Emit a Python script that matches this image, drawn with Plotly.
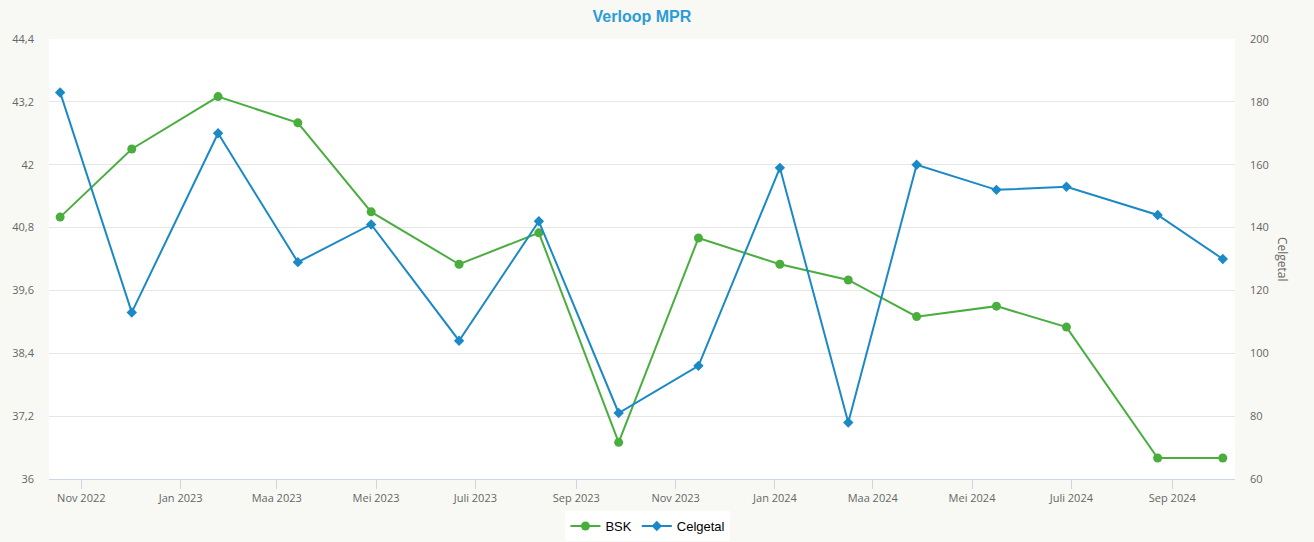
import plotly.graph_objects as go

dates = ["2022-10-19", "2022-12-02", "2023-01-24", "2023-03-14", "2023-04-28",
         "2023-06-21", "2023-08-09", "2023-09-27", "2023-11-15", "2024-01-04",
         "2024-02-15", "2024-03-28", "2024-05-16", "2024-06-28", "2024-08-23",
         "2024-10-02"]
bsk = [41.0, 42.3, 43.3, 42.8, 41.1, 40.1, 40.7, 36.7, 40.6, 40.1, 39.8, 39.1,
       39.3, 38.9, 36.4, 36.4]
celgetal = [183, 113, 170, 129, 141, 104, 142, 81, 96, 159, 78, 160, 152, 153,
            144, 130]

tick_dates = ["2022-11-01", "2023-01-01", "2023-03-01", "2023-05-01", "2023-07-01",
              "2023-09-01", "2023-11-01", "2024-01-01", "2024-03-01", "2024-05-01",
              "2024-07-01", "2024-09-01"]
tick_labels = ["Nov 2022", "Jan 2023", "Maa 2023", "Mei 2023", "Juli 2023",
               "Sep 2023", "Nov 2023", "Jan 2024", "Maa 2024", "Mei 2024",
               "Juli 2024", "Sep 2024"]

GREEN = "#4aae3f"
BLUE = "#1b89c6"
BG = "#f8f9f4"
AXIS_FONT = dict(family="Open Sans, DejaVu Sans, sans-serif", size=11, color="#666666")

fig = go.Figure()
fig.add_trace(go.Scatter(
    x=dates, y=bsk, name="BSK", mode="lines+markers",
    line=dict(color=GREEN, width=2),
    marker=dict(symbol="circle", size=9, color=GREEN),
    yaxis="y"))
fig.add_trace(go.Scatter(
    x=dates, y=celgetal, name="Celgetal", mode="lines+markers",
    line=dict(color=BLUE, width=2),
    marker=dict(symbol="diamond", size=8, color=BLUE),
    yaxis="y2"))

fig.update_layout(
    width=1314, height=542,
    paper_bgcolor=BG, plot_bgcolor="#ffffff",
    margin=dict(l=49, r=79, t=39, b=63, autoexpand=False),
    separators=",.",
    title=dict(text="<b>Verloop MPR</b>", x=0.4885, xanchor="center", y=0.97, yanchor="middle",
               font=dict(family="Liberation Sans, Arial, sans-serif", size=16, color="#2b9cd8")),
    xaxis=dict(
        type="date", range=["2022-10-12 04:00", "2024-10-09 12:00"],
        tickvals=tick_dates, ticktext=tick_labels,
        showgrid=False, showline=True, linecolor="#ccd6eb", linewidth=1,
        ticks="outside", ticklen=9, tickcolor="#ccd6eb", tickfont=AXIS_FONT,
        zeroline=False),
    yaxis=dict(
        range=[36, 44.4], tick0=36, dtick=1.2, showgrid=True, gridcolor="#e6e6e6",
        gridwidth=1, zeroline=False, showline=False, tickfont=AXIS_FONT,
        ticklabelstandoff=14),
    yaxis2=dict(
        range=[60, 200], tick0=60, dtick=20, overlaying="y", side="right",
        showgrid=False, zeroline=False, showline=False, tickfont=AXIS_FONT,
        ticklabelstandoff=14),
    legend=dict(
        orientation="h", x=0.505, xanchor="center", y=-0.107, yanchor="middle",
        bgcolor="#ffffff", font=dict(family="Liberation Sans, Arial, sans-serif", size=13, color="#000000"),
        itemwidth=30),
    showlegend=True,
    annotations=[dict(
        text="Celgetal", textangle=90, xref="paper", yref="paper", x=1.0405, y=0.5,
        xanchor="center", yanchor="middle", showarrow=False,
        font=dict(family="Open Sans, DejaVu Sans, sans-serif", size=12, color="#666666"))],
)

fig.write_html(
    "out.html",
    config={"displayModeBar": False},
    post_script="document.body.style.margin='0';document.body.style.background='%s';" % BG,
)
